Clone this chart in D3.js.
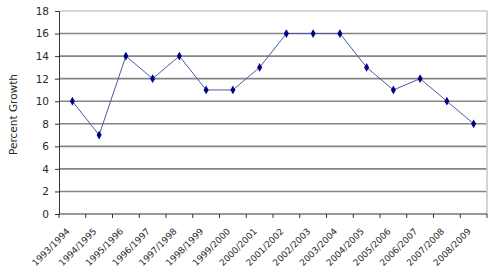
<!DOCTYPE html>
<html>
<head>
<meta charset="utf-8">
<script src="https://cdn.jsdelivr.net/npm/d3@7"></script>
<style>
  body { margin: 0; background: #fff; }
  text { font-family: "DejaVu Sans", sans-serif; fill: #2a2a2a; }
</style>
</head>
<body>
<div id="chart"></div>
<script>
let years = ['1993/1994', '1994/1995', '1995/1996', '1996/1997', '1997/1998', '1998/1999',
  '1999/2000', '2000/2001', '2001/2002', '2002/2003', '2003/2004', '2004/2005',
  '2005/2006', '2006/2007', '2007/2008', '2008/2009']
let growth = [10, 7, 14, 12, 14, 11, 11, 13, 16, 16, 16, 13, 11, 12, 10, 8]
let yTicks = [0, 2, 4, 6, 8, 10, 12, 14, 16, 18]

let width = 500
    height = 277
    margin = {top: 11, right: 13, bottom: 63, left: 59}

let svg = d3.select("#chart")
  .append("svg")
  .attr("width", width)
  .attr("height", height)

let x = d3.scaleBand()
  .domain(years)
  .range([margin.left, width - margin.right])

let y = d3.scaleLinear()
  .domain([0, 18])
  .range([height - margin.bottom, margin.top])

// gridlines (top one is the light frame)
svg.append("g")
  .selectAll("line")
  .data(yTicks.filter(d => d > 0))
  .enter()
  .append("line")
  .attr("x1", margin.left)
  .attr("x2", width - margin.right)
  .attr("y1", d => y(d))
  .attr("y2", d => y(d))
  .attr("stroke", d => d == 18 ? "#c8c8c8" : "#858585")
  .attr("stroke-width", 1.6)

// right frame
svg.append("line")
  .attr("x1", width - margin.right)
  .attr("x2", width - margin.right)
  .attr("y1", margin.top)
  .attr("y2", y(0))
  .attr("stroke", "#c8c8c8")
  .attr("stroke-width", 1.6)

// y axis
let yAxis = svg.append("g")
  .attr("transform", "translate(" + margin.left + ",0)")
  .call(d3.axisLeft(y).tickValues(yTicks).tickSize(4).tickPadding(6))
yAxis.select(".domain").attr("stroke", "#333")
yAxis.selectAll(".tick line").attr("stroke", "#333")
yAxis.selectAll("text").style("font-size", "10.5px").style("font-family", "DejaVu Sans")

// x axis with ticks on band edges
let xAxis = svg.append("g")
  .attr("transform", "translate(0," + y(0) + ")")
xAxis.append("line")
  .attr("x1", margin.left)
  .attr("x2", width - margin.right)
  .attr("stroke", "#333")
xAxis.selectAll(".edge")
  .data(years.concat(["end"]))
  .enter()
  .append("line")
  .attr("x1", (d, i) => i < years.length ? x(d) : x.range()[1])
  .attr("x2", (d, i) => i < years.length ? x(d) : x.range()[1])
  .attr("y2", 4)
  .attr("stroke", "#333")
xAxis.selectAll("text")
  .data(years)
  .enter()
  .append("text")
  .attr("transform", d => "translate(" + (x(d) + x.bandwidth() / 2 - 2) + ",18) rotate(-45)")
  .attr("text-anchor", "end")
  .style("font-size", "9px")
  .text(d => d)

// y label
svg.append("text")
  .attr("transform", "translate(17," + (y(9) + 2) + ") rotate(-90)")
  .attr("text-anchor", "middle")
  .style("font-size", "10.5px")
  .text("Percent Growth")

// series line
let line = d3.line()
  .x((d, i) => x(years[i]) + x.bandwidth() / 2)
  .y(d => y(d))

svg.append("path")
  .datum(growth)
  .attr("d", line)
  .attr("fill", "none")
  .attr("stroke", "#4d5aa6")
  .attr("stroke-width", 1)

svg.append("g")
  .selectAll("path")
  .data(growth)
  .enter()
  .append("path")
  .attr("d", d3.symbol().type(d3.symbolDiamond).size(22))
  .attr("transform", (d, i) => "translate(" + (x(years[i]) + x.bandwidth() / 2) + "," + y(d) + ")")
  .attr("fill", "#000080")
</script>
</body>
</html>
